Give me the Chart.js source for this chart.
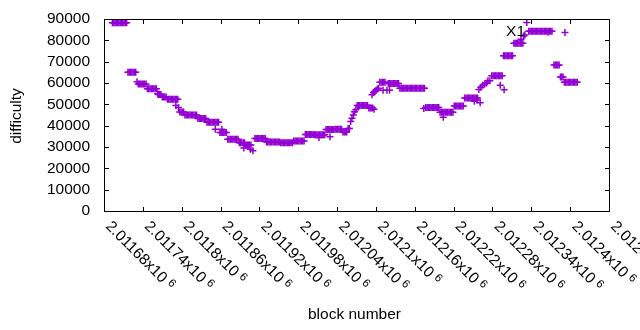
<!DOCTYPE html>
<html>
<head>
<meta charset="utf-8">
<title>difficulty</title>
<script src="https://cdn.jsdelivr.net/npm/chart.js@4.4.0/dist/chart.umd.min.js"></script>
<style>
	html, body { margin: 0; padding: 0; background: #fff; }
	#chart { display: block; }
</style>
</head>
<body>
<canvas id="chart" width="640" height="330"></canvas>
<script>
var seriesLabel = 'X1';
var xTitle = 'block number';
var yTitle = 'difficulty';

// one entry per plotted block, runs of equal difficulty kept on one line
var blockNumber = [
	2011693, 2011695, 2011697, 2011699, 2011701, 2011703, 2011705, 2011707, 2011709, 2011711, 2011713, 2011715,
	2011717, 2011719, 2011721, 2011723, 2011725, 2011727, 2011729,
	2011731,
	2011733, 2011735, 2011737, 2011739, 2011741, 2011743, 2011745,
	2011747, 2011749, 2011751, 2011753, 2011755, 2011757, 2011759, 2011761,
	2011763,
	2011764, 2011766, 2011768,
	2011770, 2011772, 2011774, 2011776,
	2011778, 2011780, 2011782, 2011784, 2011786, 2011788, 2011790, 2011792, 2011794,
	2011791, 2011795,
	2011797, 2011799, 2011801, 2011803,
	2011805, 2011807, 2011809, 2011811, 2011813, 2011815, 2011817, 2011819, 2011821, 2011823,
	2011825, 2011827, 2011829, 2011831, 2011833, 2011835, 2011837,
	2011839, 2011841, 2011843, 2011845, 2011847, 2011849, 2011851, 2011853, 2011855, 2011857,
	2011852, 2011862,
	2011859, 2011861, 2011863, 2011865, 2011867, 2011869,
	2011871, 2011873, 2011875, 2011877, 2011879, 2011881, 2011883, 2011885, 2011887,
	2011889, 2011891, 2011893, 2011895, 2011897,
	2011899, 2011901, 2011903, 2011905, 2011907,
	2011896, 2011902, 2011906, 2011910,
	2011913, 2011915, 2011917, 2011919, 2011921, 2011923, 2011925, 2011927, 2011929,
	2011931, 2011933, 2011935, 2011937, 2011939, 2011941, 2011943, 2011945, 2011947, 2011949, 2011951,
	2011953, 2011955, 2011957, 2011959, 2011961, 2011963, 2011965, 2011967, 2011969, 2011971,
	2011973, 2011975, 2011977, 2011979, 2011981, 2011983, 2011985, 2011987, 2011989,
	2011991, 2011993, 2011995, 2011997, 2011999, 2012001, 2012003,
	2012005, 2012007, 2012009, 2012011, 2012013, 2012015, 2012017, 2012019, 2012021,
	2012012, 2012029,
	2012023, 2012025, 2012027, 2012029, 2012031, 2012033, 2012035,
	2012037, 2012039, 2012041, 2012043, 2012045, 2012047,
	2012049, 2012051, 2012053, 2012055,
	2012057, 2012059,
	2012061, 2012063, 2012065, 2012067, 2012069,
	2012071, 2012073, 2012075, 2012077, 2012079, 2012081, 2012083, 2012085, 2012087,
	2012089, 2012091, 2012093, 2012095, 2012097,
	2012094, 2012096, 2012098, 2012100,
	2012102, 2012104,
	2012106, 2012108, 2012110, 2012112, 2012114,
	2012111, 2012117, 2012121,
	2012119, 2012121, 2012123, 2012125, 2012127, 2012129, 2012131, 2012133, 2012135,
	2012137, 2012139, 2012141, 2012143, 2012145, 2012147, 2012149, 2012151, 2012153, 2012155,
	2012157, 2012159, 2012161, 2012163, 2012165, 2012167, 2012169, 2012171, 2012173, 2012175,
	2012174,
	2012177, 2012179, 2012181, 2012183, 2012185, 2012187, 2012189, 2012191, 2012193, 2012195, 2012197,
	2012199, 2012201, 2012203, 2012205, 2012207, 2012209, 2012211, 2012213, 2012215, 2012217, 2012219, 2012204,
	2012221, 2012223, 2012225, 2012227, 2012229, 2012231, 2012233, 2012235,
	2012237, 2012239, 2012241, 2012243, 2012245, 2012247, 2012249, 2012251, 2012253, 2012255, 2012257,
	2012252, 2012256, 2012261,
	2012259, 2012262, 2012265, 2012268, 2012271,
	2012273, 2012276,
	2012279, 2012281, 2012283, 2012285, 2012287, 2012289, 2012291, 2012293, 2012295,
	2012292, 2012298,
	2012297, 2012299, 2012301, 2012303, 2012305, 2012307, 2012309, 2012311,
	2012313, 2012315, 2012317, 2012319, 2012321, 2012323, 2012325, 2012327,
	2012324, 2012328, 2012330,
	2012333,
	2012336, 2012338, 2012340, 2012342, 2012344, 2012346, 2012348, 2012350, 2012352, 2012354,
	2012356, 2012358, 2012360, 2012362, 2012364, 2012366, 2012368, 2012370, 2012372,
	2012392,
	2012375, 2012377, 2012379, 2012381, 2012383,
	2012385, 2012387, 2012389,
	2012391, 2012393, 2012395, 2012397, 2012399, 2012401, 2012403, 2012405, 2012407, 2012409, 2012411
];

var difficulty = [
	88200, 88200, 88200, 88200, 88200, 88200, 88200, 88200, 88200, 88200, 88200, 88200,
	65000, 65000, 65000, 65000, 65000, 65000, 65000,
	60600,
	59500, 59500, 59500, 59500, 59500, 59500, 59500,
	57300, 57300, 57300, 57300, 57300, 57300, 57300, 57300,
	55000,
	54600, 54600, 54600,
	53400, 53400, 53400, 53400,
	52400, 52400, 52400, 52400, 52400, 52400, 52400, 52400, 52400,
	49500, 48500,
	46400, 46400, 46400, 46400,
	45000, 45000, 45000, 45000, 45000, 45000, 45000, 45000, 45000, 45000,
	43400, 43400, 43400, 43400, 43400, 43400, 43400,
	41600, 41600, 41600, 41600, 41600, 41600, 41600, 41600, 41600, 41600,
	38300, 38300,
	36800, 36800, 36800, 36800, 36800, 36800,
	33600, 33600, 33600, 33600, 33600, 33600, 33600, 33600, 33600,
	32000, 32000, 32000, 32000, 32000,
	30900, 30900, 30900, 30900, 30900,
	29500, 30200, 29000, 28300,
	34000, 34000, 34000, 34000, 34000, 34000, 34000, 34000, 34000,
	32300, 32300, 32300, 32300, 32300, 32300, 32300, 32300, 32300, 32300, 32300,
	32000, 32000, 32000, 32000, 32000, 32000, 32000, 32000, 32000, 32000,
	32800, 32800, 32800, 32800, 32800, 32800, 32800, 32800, 32800,
	35900, 35900, 35900, 35900, 35900, 35900, 35900,
	35700, 35700, 35700, 35700, 35700, 35700, 35700, 35700, 35700,
	34500, 34800,
	38200, 38200, 38200, 38200, 38200, 38200, 38200,
	38300, 38300, 38300, 38300, 38300, 38300,
	37000, 37000, 37000, 37000,
	38700, 38700,
	42000, 43500, 45000, 46500, 47500,
	49400, 49400, 49400, 49400, 49400, 49400, 49400, 49400, 49400,
	48300, 48300, 48300, 48300, 47700,
	54500, 55500, 56000, 56500,
	57200, 57500,
	60300, 60300, 60300, 60300, 60300,
	56600, 56600, 56600,
	59800, 59800, 59800, 59800, 59800, 59800, 59800, 59800, 59800,
	57500, 57500, 57500, 57500, 57500, 57500, 57500, 57500, 57500, 57500,
	57500, 57500, 57500, 57500, 57500, 57500, 57500, 57500, 57500, 57500,
	48100,
	48500, 48500, 48500, 48500, 48500, 48500, 48500, 48500, 48500, 48500, 48500,
	46300, 46300, 46300, 46300, 46300, 46300, 46300, 46300, 46300, 46300, 46300, 44000,
	49200, 49200, 49200, 49200, 49200, 49200, 49200, 49200,
	53000, 53000, 53000, 53000, 53000, 53000, 53000, 53000, 53000, 53000, 53000,
	51500, 52000, 50800,
	57000, 58000, 59000, 59500, 60000,
	61000, 61000,
	63400, 63400, 63400, 63400, 63400, 63400, 63400, 63400, 63400,
	59000, 56800,
	72800, 72800, 72800, 72800, 72800, 72800, 72800, 72800,
	78600, 78600, 78600, 78600, 78600, 78600, 78600, 78600,
	80500, 82000, 82500,
	88400,
	84200, 84200, 84200, 84200, 84200, 84200, 84200, 84200, 84200, 84200,
	84200, 84200, 84200, 84200, 84200, 84200, 84200, 84200, 84200,
	83700,
	68400, 68400, 68400, 68400, 68400,
	62800, 62800, 62800,
	60300, 60300, 60300, 60300, 60300, 60300, 60300, 60300, 60300, 60300, 60300
];

var xTicks = [2011680, 2011740, 2011800, 2011860, 2011920, 2011980, 2012040,
	2012100, 2012160, 2012220, 2012280, 2012340, 2012400, 2012460];
var yTicks = [0, 10000, 20000, 30000, 40000, 50000, 60000, 70000, 80000, 90000];

if (blockNumber.length !== difficulty.length) {
	throw new Error('data length mismatch ' + blockNumber.length + ' / ' + difficulty.length);
}

var purple = '#9400d3';
var fontFamily = '"Liberation Sans", Arial, sans-serif';
var mainFont = '15.5px ' + fontFamily;
var supFont = '11.5px ' + fontFamily;

function xTickMantissa(v) {
	return parseFloat((v / 1e6).toPrecision(6)).toString() + 'x10';
}

var points = blockNumber.map(function (b, i) {
	return { x: b, y: difficulty[i] };
});

// gnuplot style box: border, inward mirrored ticks, labels, key
var gnuplotBox = {
	id: 'gnuplotBox',
	afterDatasetsDraw: function (chart) {
		var ctx = chart.ctx;
		var area = chart.chartArea;
		var xs = chart.scales.x;
		var ys = chart.scales.y;
		var L = Math.round(area.left) + 0.5;
		var R = Math.round(area.right) + 0.5;
		var T = Math.round(area.top) + 0.5;
		var B = Math.round(area.bottom) + 0.5;
		var tick = 4.5;

		ctx.save();
		ctx.strokeStyle = '#000';
		ctx.lineWidth = 1;
		ctx.beginPath();
		ctx.rect(L, T, R - L, B - T);

		yTicks.forEach(function (v) {
			var y = Math.round(ys.getPixelForValue(v)) + 0.5;
			ctx.moveTo(L, y); ctx.lineTo(L + tick, y);
			ctx.moveTo(R, y); ctx.lineTo(R - tick, y);
		});
		xTicks.forEach(function (v) {
			var x = Math.round(xs.getPixelForValue(v)) + 0.5;
			ctx.moveTo(x, B); ctx.lineTo(x, B - tick);
			ctx.moveTo(x, T); ctx.lineTo(x, T + tick);
		});
		ctx.stroke();

		ctx.fillStyle = '#000';
		ctx.font = mainFont;

		// y labels
		ctx.textAlign = 'right';
		ctx.textBaseline = 'middle';
		yTicks.forEach(function (v) {
			ctx.fillText(String(v), 90, ys.getPixelForValue(v));
		});

		// x labels, rotated by -45 like gnuplot
		xTicks.forEach(function (v) {
			var x = xs.getPixelForValue(v);
			var txt = xTickMantissa(v);
			ctx.save();
			ctx.translate(x + 4, area.bottom + 13);
			ctx.rotate(Math.PI / 4);
			ctx.textAlign = 'left';
			ctx.textBaseline = 'middle';
			ctx.font = mainFont;
			ctx.fillText(txt, 0, 0);
			var w = ctx.measureText(txt).width;
			ctx.font = supFont;
			ctx.fillText('6', w + 4, -3);
			ctx.restore();
		});

		// axis titles
		ctx.font = mainFont;
		ctx.textAlign = 'center';
		ctx.textBaseline = 'middle';
		ctx.fillText(xTitle, (area.left + area.right) / 2 - 2, 315);
		ctx.save();
		ctx.translate(17, (area.top + area.bottom) / 2 + 1);
		ctx.rotate(-Math.PI / 2);
		ctx.fillText(yTitle, 0, 0);
		ctx.restore();

		// key
		ctx.textAlign = 'right';
		ctx.fillText(chart.data.datasets[0].label, 525, 32);
		ctx.strokeStyle = purple;
		ctx.beginPath();
		ctx.moveTo(544.5, 32.5); ctx.lineTo(551.5, 32.5);
		ctx.moveTo(548, 29); ctx.lineTo(548, 36);
		ctx.stroke();
		ctx.restore();
	}
};

new Chart(document.getElementById('chart'), {
	type: 'scatter',
	data: {
		datasets: [{
			label: seriesLabel,
			data: points,
			pointStyle: 'cross',
			pointRadius: 3.5,
			pointBorderWidth: 1.5,
			borderColor: purple,
			backgroundColor: purple,
			clip: false
		}]
	},
	options: {
		responsive: false,
		animation: false,
		events: [],
		layout: {
			padding: { left: 104, top: 19, right: 31, bottom: 119 }
		},
		scales: {
			x: {
				type: 'linear',
				min: xTicks[0],
				max: xTicks[xTicks.length - 1],
				display: false
			},
			y: {
				min: yTicks[0],
				max: yTicks[yTicks.length - 1],
				display: false
			}
		},
		plugins: {
			legend: { display: false },
			tooltip: { enabled: false }
		}
	},
	plugins: [gnuplotBox]
});
</script>
</body>
</html>
